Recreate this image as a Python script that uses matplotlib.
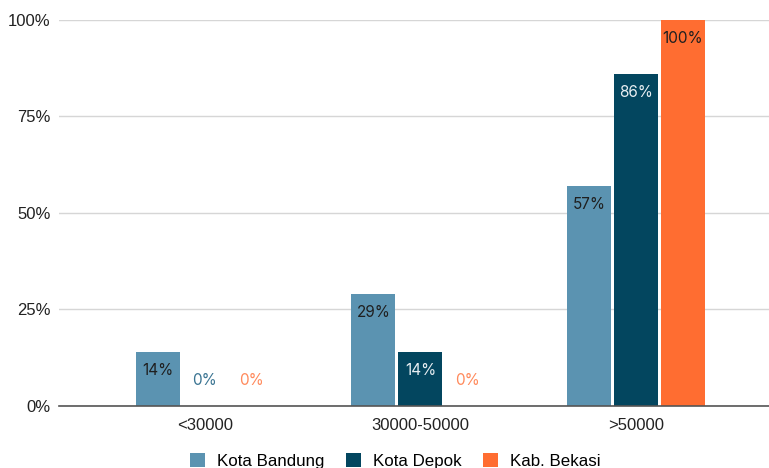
import numpy as np
import matplotlib.pyplot as plt
from matplotlib.ticker import FuncFormatter

# income bands and share of respondents per city
categories = ['<30000', '30000-50000', '>50000']
series_names = ['Kota Bandung', 'Kota Depok', 'Kab. Bekasi']
bandung = [14, 29, 57]
depok = [0, 14, 86]
bekasi = [0, 0, 100]

colors = ['#5b93b1', '#03465f', '#ff6d31']
inside_text = ['#1f1f1f', '#e8eef2', '#1f1f1f']
zero_text = ['#4f86a3', '#3a7492', '#ff8a5c']

fig = plt.figure(figsize=(7.69, 4.68), dpi=100)
ax = fig.add_axes([0.0767, 0.1325, 0.9233, 0.8248])

x = np.arange(len(categories))
width = 0.204
offset = 0.218

for i, (vals, name) in enumerate(zip([bandung, depok, bekasi], series_names)):
    xs = x + (i - 1) * offset
    ax.bar(xs, vals, width, color=colors[i], label=name, zorder=3)
    for xv, v in zip(xs, vals):
        if v > 0:
            ax.annotate(f'{v}%', (xv, v), xytext=(0, -13.5), textcoords='offset points',
                        ha='center', va='center', fontsize=11, color=inside_text[i],
                        family='Inter', zorder=4)
        else:
            ax.annotate(f'{v}%', (xv, 0), xytext=(0, 18), textcoords='offset points',
                        ha='center', va='center', fontsize=11, color=zero_text[i],
                        family='Inter', zorder=4)

ax.set_xlim(-0.677, 2.617)
ax.set_ylim(0, 100)
ax.set_yticks([0, 25, 50, 75, 100])
ax.yaxis.set_major_formatter(FuncFormatter(lambda v, _: f'{int(v)}%'))
ax.grid(axis='y', color='#d6d6d6', linewidth=1, zorder=0)
ax.set_axisbelow(True)
for side in ['top', 'right', 'left']:
    ax.spines[side].set_visible(False)
ax.spines['bottom'].set_color('#555555')
ax.spines['bottom'].set_linewidth(1.2)
ax.spines['bottom'].set_zorder(5)
ax.set_xticks(x)
ax.set_xticklabels(categories)
ax.tick_params(axis='both', length=0, labelsize=12, labelcolor='#222222',
               labelfontfamily='Liberation Sans')
ax.tick_params(axis='x', pad=9)
ax.tick_params(axis='y', pad=6)

fig.legend(loc='lower center', bbox_to_anchor=(0.514, -0.035), ncol=3,
           frameon=False, handlelength=0.9, handleheight=0.9,
           columnspacing=1.25, handletextpad=0.7,
           prop={'family': 'Liberation Sans', 'size': 12.2})

fig.savefig('out.png', dpi=100)
